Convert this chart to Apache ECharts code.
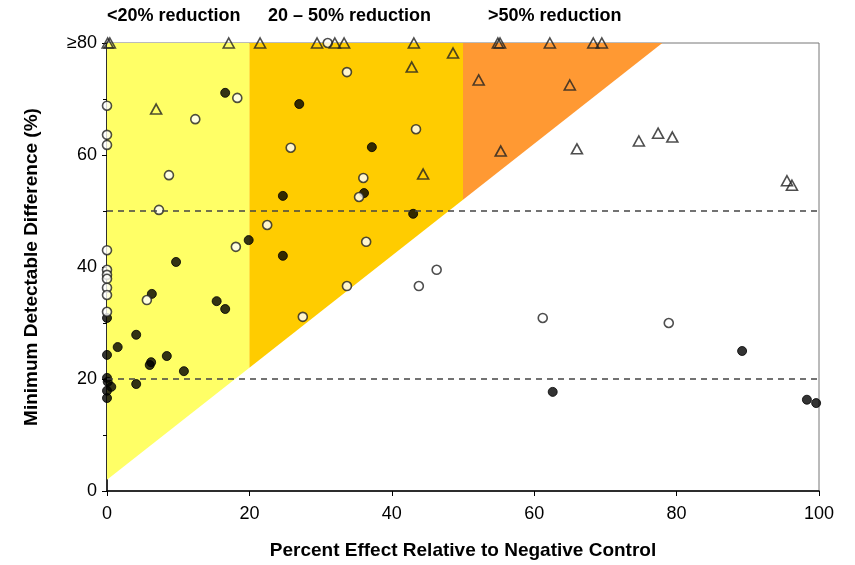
<!DOCTYPE html>
<html>
<head>
    <meta charset="UTF-8">
    <title>Minimum Detectable Difference</title>
    <script src="https://cdn.jsdelivr.net/npm/echarts@6/dist/echarts.min.js"></script>
    <style type="text/css">
        html, body {
            margin: 0;
            padding: 0;
            background: #fff;
        }
        #chart {
            width: 855px;
            height: 565px;
        }
    </style>
</head>
<body>
<div id="chart"></div>
<script>
    // shaded bands: x edges and where the threshold line sits at each edge
    const bandEdges = [0, 20, 50, 78];
    const bandBottom = [2, 22, 52, 80];
    const bandColors = ['#FFFF66', '#FFCC00', '#FF9933'];
    const bandLabels = ['<20% reduction', '20 \u2013 50% reduction', '>50% reduction'];

    const xTicks = [0, 20, 40, 60, 80, 100];
    const yTicks = ['0', '20', '40', '60', '\u226580'];
    const refLines = [20, 50];

    // open triangles (MDD capped at >=80 plotted on the top edge)
    const triangles = [
        [0.1, 80], [0.4, 80], [17.1, 80], [21.5, 80], [29.5, 80], [32.0, 80], [33.3, 80],
        [43.1, 80], [54.9, 80], [55.2, 80], [62.2, 80], [68.3, 80], [69.5, 80],
        [6.9, 68.2], [42.8, 75.7], [48.6, 78.2], [52.2, 73.4], [65.0, 72.5], [55.3, 60.7],
        [44.4, 56.6], [66.0, 61.1], [74.7, 62.5], [77.4, 63.9], [79.4, 63.2],
        [95.5, 55.4], [96.2, 54.6]
    ];

    // open circles
    const openCircles = [
        [31.0, 80],
        [0, 68.8], [0, 63.6], [0, 61.8], [0, 43.0], [0, 39.5], [0, 38.6], [0, 37.9],
        [0, 36.3], [0, 35.0], [0, 32.0],
        [18.3, 70.2], [12.4, 66.4], [8.7, 56.4], [7.3, 50.2], [5.6, 34.1], [18.1, 43.6],
        [22.5, 47.5], [33.7, 74.8], [25.8, 61.3], [43.4, 64.6], [36.0, 55.9], [35.4, 52.5],
        [36.4, 44.5], [33.7, 36.6], [27.5, 31.1], [46.3, 39.5], [43.8, 36.6],
        [61.2, 30.9], [78.9, 30.0]
    ];

    // filled circles
    const filledCircles = [
        [0, 30.9], [0, 24.3], [0, 20.2], [0.1, 19.5], [0.6, 18.6], [0, 17.9], [0, 16.6],
        [1.5, 25.7], [4.1, 27.9], [4.1, 19.1], [6.2, 23.0], [6.0, 22.5], [6.3, 35.2],
        [8.4, 24.1], [10.8, 21.4], [9.7, 40.9], [15.4, 33.9], [16.6, 32.5], [16.6, 71.1],
        [19.9, 44.8], [24.7, 52.7], [24.7, 42.0], [27.0, 69.1], [37.2, 61.4], [36.1, 53.2],
        [43.0, 49.5], [62.6, 17.7], [89.2, 25.0], [98.3, 16.3], [99.6, 15.7]
    ];

    const font = '"Liberation Sans Narrow", "Arial Narrow", "Liberation Sans", sans-serif';
    const chart = echarts.init(document.getElementById('chart'));

    const bands = bandColors.map(function (c, i) {
        return [bandEdges[i], bandEdges[i + 1], bandBottom[i], bandBottom[i + 1], i];
    });

    const option = {
        animation: false,
        grid: {
            left: 107, right: 36, top: 43, bottom: 74,
            show: true, borderColor: '#777', borderWidth: 1, backgroundColor: 'transparent'
        },
        xAxis: {
            type: 'value', min: 0, max: 100, interval: 20,
            name: 'Percent Effect Relative to Negative Control',
            nameLocation: 'middle', nameGap: 50,
            nameTextStyle: {fontFamily: font, fontWeight: 'bold', fontSize: 19, color: '#000'},
            axisLine: {show: true, onZero: false, lineStyle: {color: '#000', width: 1.5}},
            axisTick: {show: true, length: 5, lineStyle: {color: '#000'}},
            axisLabel: {fontFamily: font, fontSize: 18, color: '#000', margin: 14},
            splitLine: {show: false}
        },
        yAxis: {
            type: 'value', min: 0, max: 80, interval: 20,
            name: 'Minimum Detectable Difference (%)',
            nameLocation: 'middle', nameGap: 66, nameRotate: 90,
            nameTextStyle: {fontFamily: font, fontWeight: 'bold', fontSize: 19, color: '#000'},
            axisLine: {show: true, onZero: false, lineStyle: {color: '#000', width: 1.5}},
            axisTick: {show: true, length: 5, lineStyle: {color: '#000'}},
            minorTick: {show: true, splitNumber: 2, length: 4, lineStyle: {color: '#000'}},
            axisLabel: {
                fontFamily: font, fontSize: 18, color: '#000', margin: 10,
                formatter: function (v) { return yTicks[v / 20]; }
            },
            splitLine: {show: false}
        },
        graphic: bandLabels.map(function (t, i) {
            return {
                type: 'text',
                left: [107, 268, 488][i],
                top: 7,
                style: {text: t, font: 'bold 18px ' + font, fill: '#000'}
            };
        }),
        series: [
            {
                type: 'custom',
                silent: true,
                z: 1,
                data: bands,
                renderItem: function (params, api) {
                    const x0 = api.value(0), x1 = api.value(1);
                    const b0 = api.value(2), b1 = api.value(3);
                    const pts = [
                        api.coord([x0, b0]), api.coord([x1, b1]),
                        api.coord([x1, 80]), api.coord([x0, 80])
                    ];
                    return {
                        type: 'polygon',
                        shape: {points: pts},
                        style: {fill: bandColors[api.value(4)], stroke: null}
                    };
                }
            },
            {
                type: 'scatter',
                z: 3,
                symbol: 'circle',
                symbolSize: 9,
                itemStyle: {color: '#000', borderColor: '#000', borderWidth: 1},
                data: filledCircles,
                markLine: {
                    silent: true,
                    symbol: 'none',
                    label: {show: false},
                    lineStyle: {color: '#444', type: [6, 5], width: 1.5},
                    data: refLines.map(function (v) { return {yAxis: v}; })
                }
            },
            {
                type: 'scatter',
                z: 4,
                symbol: 'circle',
                symbolSize: 9,
                itemStyle: {color: '#fff', borderColor: '#222', borderWidth: 1.6},
                data: openCircles
            },
            {
                type: 'scatter',
                z: 5,
                symbol: 'triangle',
                symbolSize: [11, 10],
                itemStyle: {color: 'rgba(0,0,0,0)', borderColor: '#222', borderWidth: 1.6},
                data: triangles
            }
        ]
    };
    chart.setOption(option);
</script>
</body>
</html>
